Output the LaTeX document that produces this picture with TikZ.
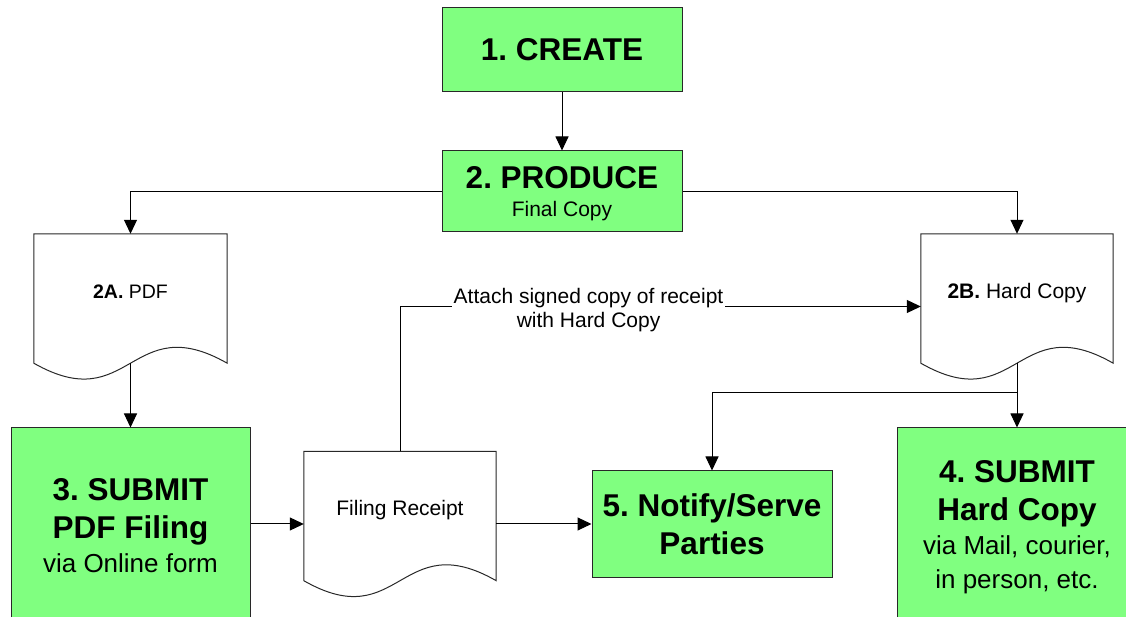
\documentclass[tikz,border=0pt]{standalone}
\usepackage{fontspec}
\setmainfont{Liberation Sans}
\frenchspacing
\usetikzlibrary{arrows.meta,calc}
\definecolor{boxgreen}{RGB}{128,255,128}
\definecolor{edgegray}{RGB}{40,40,40}
\tikzset{
  gbox/.style={draw=edgegray, fill=boxgreen, line width=1pt, inner sep=0pt, align=center,
    font=\fontsize{31.5}{38}\selectfont\bfseries},
  docnode/.style={inner sep=0pt, minimum width=192pt, minimum height=145pt,
    text height=15pt, text depth=31pt, font=\fontsize{21}{25}\selectfont},
  docline/.style={draw=edgegray, line width=1pt, line join=miter},
  arr/.style={draw=black, line width=1pt, -{Triangle[length=14pt,width=13pt]}},
  lbl/.style={fill=white, inner xsep=2pt, inner ysep=2pt, align=center,
    font=\fontsize{21}{24}\selectfont},
}
\newcommand{\docoutline}[1]{%
  \draw[docline] ([yshift=16pt]#1.south west) -- (#1.north west) -- (#1.north east)
    -- ([yshift=16pt]#1.south east)
    .. controls ([yshift=71pt]#1.south) and ([yshift=-39pt]#1.south) ..
    ([yshift=16pt]#1.south west) -- cycle;
  \coordinate (#1-w) at ([yshift=16pt]#1.south);
}
\begin{document}
\begin{tikzpicture}[x=1pt,y=1pt]
\useasboundingbox (0,0) rectangle (1126,617);
\clip (0,0) rectangle (1126,617);

\node[gbox, minimum width=240pt, minimum height=84pt] (create) at (562,567) {1. CREATE};
\node[gbox, minimum width=240pt, minimum height=81pt, text depth=-3.5pt, font=\fontsize{31.5}{28}\selectfont\bfseries] (produce) at (562,425.5)
  {2. PRODUCE\\{\mdseries\fontsize{21}{25}\selectfont Final Copy}};

\node[docnode, minimum width=193pt] (b2a) at (130.5,310.5) {\fontsize{19.5}{24}\selectfont\textbf{2A.} PDF};
\node[docnode] (b2b) at (1017,310.5) {\textbf{2B.} Hard Copy};
\node[docnode] (fr) at (400,93) {Filing Receipt};

\node[gbox, minimum width=239pt, minimum height=196pt] (b3) at (130.5,91)
  {3. SUBMIT\\PDF Filing\\[-4pt]{\mdseries\fontsize{26}{30}\selectfont via Online form}};
\node[gbox, minimum width=240pt, minimum height=107pt] (n5) at (712,92.5)
  {5. Notify/Serve\\Parties};
\node[gbox, minimum width=240pt, minimum height=194pt, text depth=1.5pt] (b4) at (1017,92)
  {4. SUBMIT\\Hard Copy\\[-4pt]{\mdseries\fontsize{26}{30}\selectfont via Mail, courier,}\\[-4pt]{\mdseries\fontsize{26}{30}\selectfont in person, etc.}};

\docoutline{b2a}
\docoutline{b2b}
\docoutline{fr}

\draw[arr] (create.south) -- (produce.north);
\draw[arr] (produce.west) -| (b2a.north);
\draw[arr] (produce.east) -| (b2b.north);
\draw[arr] (b2a-w) -- (b3.north);
\draw[arr] (b3.east |- fr.west) -- (fr.west);
\draw[arr] (fr.east) -- (fr.east -| n5.west);
\draw[arr] (fr.north) |- node[lbl, pos=0.681, yshift=-4pt] (att) {Attach signed copy of receipt\\with Hard Copy} (b2b.west);
\draw[arr] (b2b-w) -- coordinate[pos=0.46] (br) (b4.north);
\draw[arr] (br) -| (n5.north);
\end{tikzpicture}
\end{document}
